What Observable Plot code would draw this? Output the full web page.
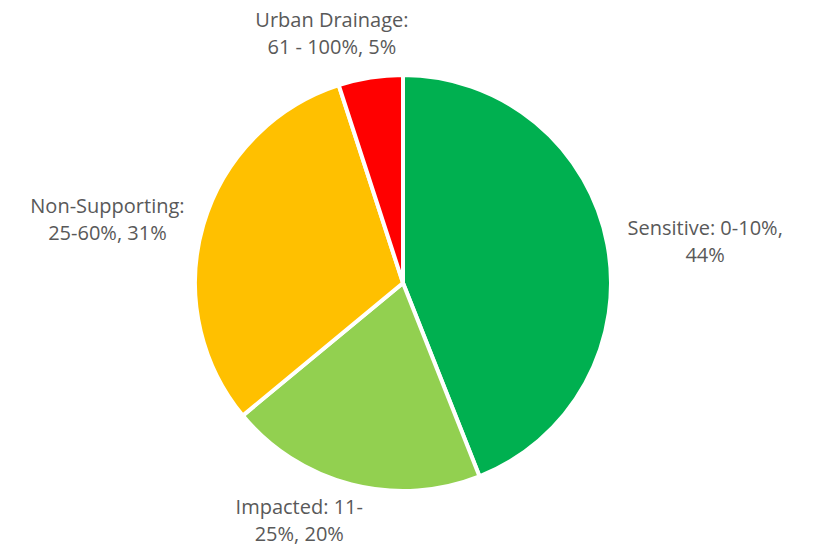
<!DOCTYPE html>
<html>
<head>
<meta charset="utf-8">
<script src="https://cdn.jsdelivr.net/npm/d3@7"></script>
<script src="https://cdn.jsdelivr.net/npm/@observablehq/plot@0.6"></script>
<style>
  html, body { margin: 0; padding: 0; background: #fff; }
  #chart { width: 813px; height: 549px; }
</style>
</head>
<body>
<div id="chart"></div>
<script>
const categories = ["Sensitive", "Impacted", "Non-Supporting", "Urban Drainage"];
const ranges = ["0-10%", "11-25%", "25-60%", "61 - 100%"];
const values = [44, 20, 31, 5];
const colors = ["#00B050", "#92D050", "#FFC000", "#FF0000"];
// line-break layout of each label as in the reference
const labelLines = [
  ["Sensitive: 0-10%,", "44%"],
  ["Impacted: 11-", "25%, 20%"],
  ["Non-Supporting:", "25-60%, 31%"],
  ["Urban Drainage:", "61 - 100%, 5%"]
];

const W = 813, H = 549;
const cx = 403, cy = 283, R = 208;
const fontFamily = "'Open Sans', Lato, sans-serif";
const fontSize = 20;
const lineH = 27;
const gap = 20;

const data = categories.map((c, i) => ({category: c, range: ranges[i], value: values[i], color: colors[i], lines: labelLines[i]}));
const arcs = d3.pie().sort(null).value(d => d.value)(data);

const ctx = document.createElement("canvas").getContext("2d");
ctx.font = `${fontSize}px ${fontFamily}`;

const labels = arcs.map(a => {
  const th = (a.startAngle + a.endAngle) / 2;
  const s = Math.sin(th), c = Math.cos(th);
  const w = Math.max(...a.data.lines.map(l => ctx.measureText(l).width));
  const h = a.data.lines.length * lineH;
  const ax = cx + R * s, ay = cy - R * c;
  let x = ax + gap * s + (w / 2) * Math.sign(s) * Math.min(1, 3 * Math.abs(s));
  let y = ay - c * (gap + (h / 2) * Math.abs(c));
  y = Math.max(h / 2 + 3, Math.min(H - h / 2 - 4, y));
  x = Math.max(w / 2, Math.min(W - w / 2, x));
  return {x, y, text: a.data.lines.join("\n")};
});

const arcGen = d3.arc().innerRadius(0).outerRadius(R);

const pieMark = (index, scales) => {
  const g = d3.create("svg:g");
  g.selectAll("path")
    .data(arcs)
    .join("path")
    .attr("transform", `translate(${scales.x(cx)},${scales.y(cy)})`)
    .attr("d", arcGen)
    .attr("fill", a => a.data.color)
    .attr("stroke", "#fff")
    .attr("stroke-width", 4)
    .attr("stroke-linejoin", "round");
  return g.node();
};

const chart = Plot.plot({
  width: W,
  height: H,
  margin: 0,
  x: {domain: [0, W], range: [0, W], axis: null},
  y: {domain: [0, H], range: [0, H], axis: null},
  style: {fontFamily, background: "#fff"},
  marks: [
    pieMark,
    Plot.text(labels, {
      x: "x", y: "y", text: "text",
      fontSize, lineHeight: lineH / fontSize,
      fill: "#595959", textAnchor: "middle", frameAnchor: "middle"
    })
  ]
});
document.getElementById("chart").append(chart);
</script>
</body>
</html>
